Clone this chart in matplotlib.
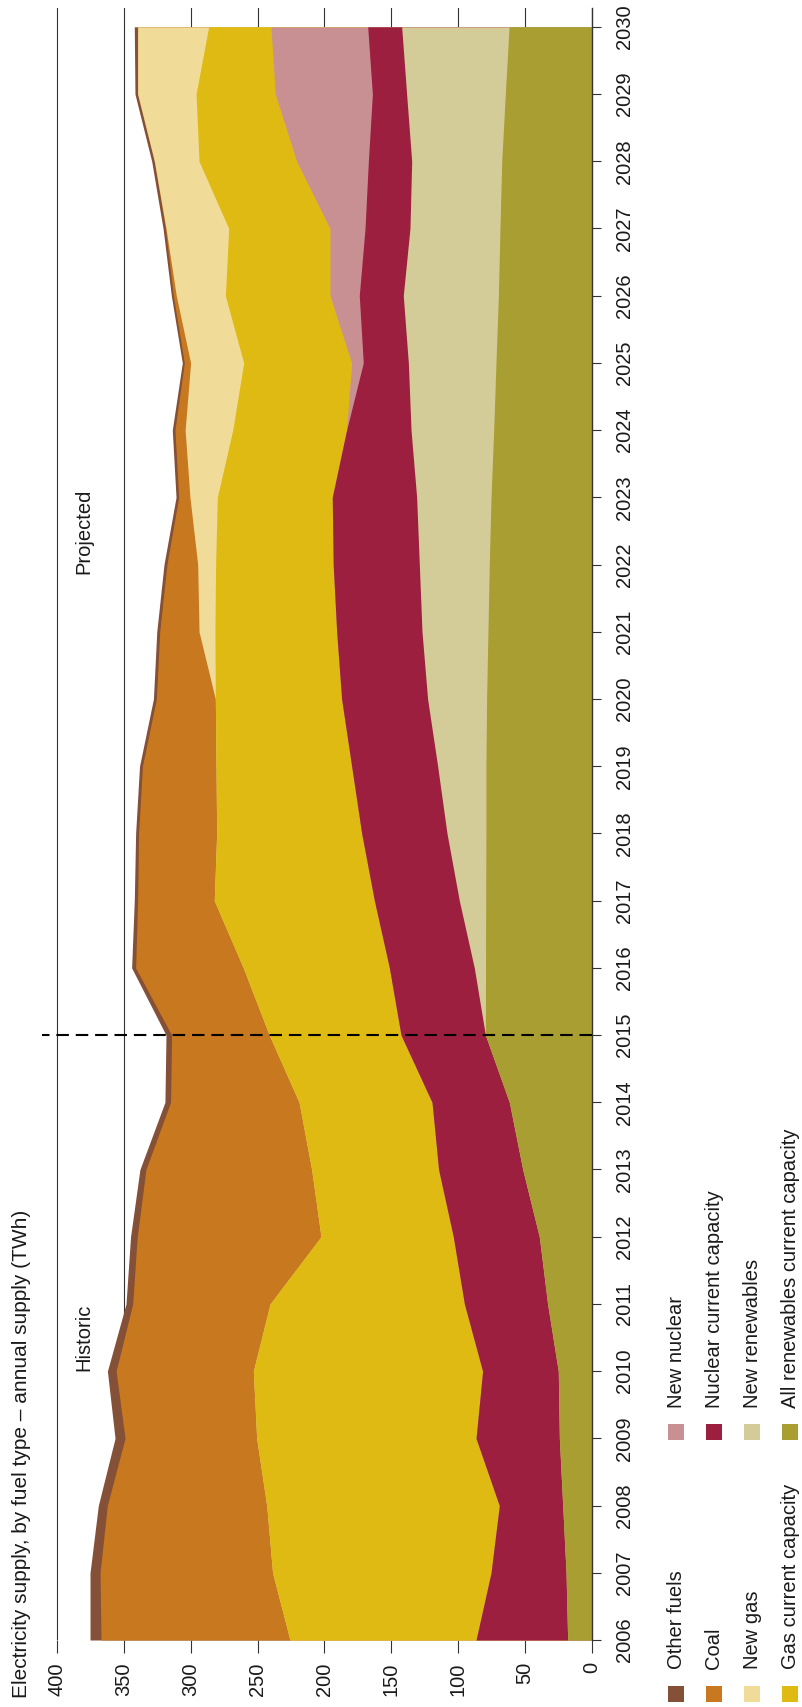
import numpy as np
import matplotlib
matplotlib.use('Agg')
import matplotlib.pyplot as plt
from matplotlib.patches import Rectangle

# ---------------- data (TWh) ----------------
years = list(range(2006, 2031))

renewables_current = [18.2, 19.4, 21.9, 24.4, 25.2, 33.2, 39.4, 51.8, 61.8, 79.7,
                      79.6, 79.5, 79.3, 79.3, 78.8, 77.8, 76.8, 75.5, 73.5, 71.8,
                      70.0, 68.8, 67.5, 64.8, 62.0]
new_renewables = [0, 0, 0, 0, 0, 0, 0, 0, 0, 0,
                  8.4, 19.7, 29.1, 36.1, 44.1, 49.3, 52.3, 55.6, 61.8, 65.5,
                  71.1, 67.3, 67.3, 73.8, 80.3]
nuclear_current = [68.5, 56.1, 47.4, 62.3, 56.6, 62.2, 64.3, 62.9, 57.8, 63.1,
                   63.5, 63.5, 63.8, 64.3, 64.3, 63.8, 64.4, 63.1, 48.2, 33.7,
                   32.9, 33.6, 32.4, 25.6, 25.4]
new_nuclear = [0, 0, 0, 0, 0, 0, 0, 0, 0, 0,
               0, 0, 0, 0, 0, 0, 0, 0, 0, 8.7,
               21.9, 26.2, 53.6, 72.6, 72.3]
gas_current = [139.1, 163.3, 173.9, 164.0, 171.4, 145.3, 98.9, 94.9, 99.4, 98.5,
               109.2, 119.7, 108.4, 101.4, 94.4, 91.0, 87.9, 85.9, 85.1, 80.7,
               78.2, 75.7, 73.0, 59.2, 46.6]
new_gas = [0, 0, 0, 0, 0, 0, 0, 0, 0, 0,
           0, 0, 0, 0, 0, 11.9, 13.4, 20.5, 35.6, 39.7,
           36.7, 46.9, 33.4, 43.7, 53.1]
coal = [141.3, 129.0, 119.2, 98.4, 102.6, 102.7, 137.4, 123.9, 96.1, 73.0,
        80.5, 57.3, 58.4, 55.0, 44.1, 29.4, 23.0, 8.4, 7.6, 4.7,
        2.2, 0.4, 0, 0, 0]
other_fuels = [8.2, 7.5, 6.7, 7.5, 6.5, 5.0, 5.0, 4.5, 4.2, 4.2,
               3.0, 2.5, 2.2, 2.2, 2.2, 2.2, 2.2, 2.0, 2.0, 1.5,
               1.5, 1.8, 2.0, 2.0, 2.5]

value_ticks = [0, 50, 100, 150, 200, 250, 300, 350, 400]
title = "Electricity supply, by fuel type \u2013 annual supply (TWh)"

# stacking order: from the axis outward
stack_names = ["All renewables current capacity", "New renewables",
               "Nuclear current capacity", "New nuclear",
               "Gas current capacity", "New gas", "Coal", "Other fuels"]
stack_values = [renewables_current, new_renewables, nuclear_current, new_nuclear,
                gas_current, new_gas, coal, other_fuels]
colors = {
    "Other fuels": "#845037",
    "Coal": "#C8781F",
    "New gas": "#F0DB98",
    "Gas current capacity": "#DFBA13",
    "New nuclear": "#C99094",
    "Nuclear current capacity": "#9C1F3F",
    "New renewables": "#D4CC98",
    "All renewables current capacity": "#A89E32",
}
legend_col1 = ["Other fuels", "Coal", "New gas", "Gas current capacity"]
legend_col2 = ["New nuclear", "Nuclear current capacity", "New renewables",
               "All renewables current capacity"]

# ---------------- figure ----------------
plt.rcParams['font.family'] = ['Liberation Sans', 'DejaVu Sans']
TXT = '#1a1a1a'
W, H = 802, 1707
fig = plt.figure(figsize=(W / 100, H / 100), dpi=100)


def fx(px):
    return px / W


def fy(py):
    return 1 - py / H


ax = fig.add_axes([fx(42), fy(1640), (592 - 42) / W, (1640 - 8) / H])

cum = np.cumsum(np.array(stack_values, dtype=float), axis=0)
for k in range(len(stack_names) - 1, -1, -1):
    ax.fill_betweenx(years, 0, cum[k], color=colors[stack_names[k]],
                     linewidth=0, zorder=2)

ax.set_xlim(411.2, 0)
ax.set_ylim(2006, 2030.28)

ax.set_axisbelow(True)
ax.set_xticks(value_ticks, labels=[str(v) for v in value_ticks], rotation=90)
ax.grid(axis='x', color='#333333', linewidth=0.8, zorder=0)

ax.yaxis.tick_right()
ax.set_yticks(years, labels=[str(y) for y in years], rotation=90, va='center')

for s in ['top', 'left', 'bottom']:
    ax.spines[s].set_visible(False)
ax.spines['right'].set_color('#333333')
ax.spines['right'].set_linewidth(1.0)
ax.spines['right'].set_zorder(4)

ax.tick_params(axis='x', direction='out', length=9.5, width=0.8, color='#333333',
               pad=6.5, labelsize=14.5, labelcolor=TXT)
ax.tick_params(axis='y', direction='out', length=6.2, width=0.8, color='#333333',
               pad=10.5, labelsize=14.5, labelcolor=TXT)

# divider between historic and projected
ax.plot([0, 411.2], [2015, 2015], color='black', linewidth=1.5,
        dashes=(6, 3.3), zorder=5, clip_on=False)

ax.text(380, 2010.5, "Historic", rotation=90, ha='center', va='center',
        fontsize=14.5, color=TXT)
ax.text(380, 2022.5, "Projected", rotation=90, ha='center', va='center',
        fontsize=14.5, color=TXT)

fig.text(fx(21.5), fy(1698), title, rotation=90, ha='center', va='bottom',
         fontsize=15, color=TXT)

# legend (rotated, drawn manually)
row_x = [676, 714, 752, 790]
for col, (sw_bottom, txt_start) in zip([legend_col1, legend_col2],
                                       [(1702, 1669), (1440, 1408)]):
    for name, cx in zip(col, row_x):
        fig.add_artist(Rectangle((fx(cx - 8), fy(sw_bottom)), 16 / W, 16 / H,
                                 transform=fig.transFigure,
                                 facecolor=colors[name], edgecolor='none'))
        fig.text(fx(cx), fy(txt_start), name, rotation=90, ha='center',
                 va='bottom', fontsize=14.5, color=TXT)

fig.savefig('out.png', dpi=100)
